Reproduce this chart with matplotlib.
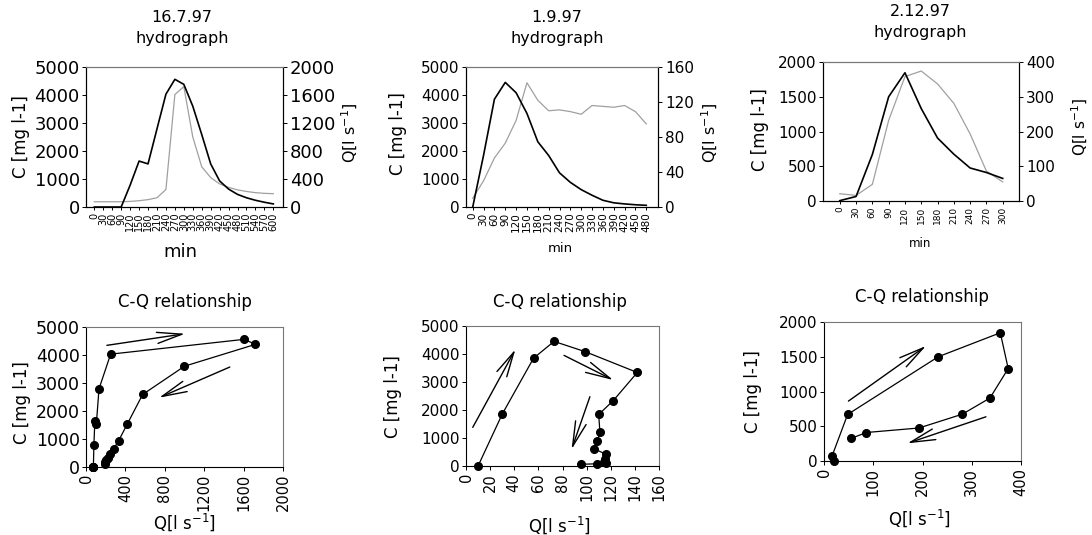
import matplotlib
matplotlib.use('Agg')
import matplotlib.pyplot as plt
import numpy as np

plt.rcParams['font.family'] = ['DejaVu Sans']
plt.rcParams['mathtext.default'] = 'regular'

W, H = 1092, 535

# --- event 16.7.97 ---
t1 = list(range(0, 601, 30))
c1 = [0, 0, 0, 0, 780, 1640, 1540, 2790, 4030, 4560, 4380, 3600, 2590, 1540, 930,
      640, 450, 330, 240, 170, 110]
q1 = [75, 75, 75, 75, 80, 90, 105, 132, 250, 1607, 1720, 1000, 575, 420, 330,
      280, 245, 222, 205, 195, 190]

# --- event 1.9.97 ---
t2 = list(range(0, 481, 30))
c2 = [0, 1850, 3850, 4450, 4080, 3340, 2330, 1840, 1220, 880, 620, 420, 240,
      150, 110, 80, 60]
q2 = [10, 30, 56, 73, 99, 142, 122, 110, 111, 109, 106, 116, 115, 114, 116, 109, 95]

# --- event 2.12.97 ---
t3 = list(range(0, 301, 30))
c3 = [5, 65, 670, 1500, 1845, 1330, 906, 674, 475, 410, 325]
q3 = [21, 16, 48, 232, 358, 374, 337, 281, 193, 86, 55]

dates = ['16.7.97', '1.9.97', '2.12.97']

# hysteresis arrows (axes fraction: tail, head)
arrows4 = [((0.106, 0.869), (0.503, 0.952)), ((0.73, 0.714), (0.371, 0.495))]
arrows5 = [((0.035, 0.276), (0.256, 0.833)), ((0.508, 0.79), (0.763, 0.614)),
           ((0.642, 0.495), (0.547, 0.119))]
arrows6 = [((0.124, 0.431), (0.518, 0.828)), ((0.822, 0.318), (0.423, 0.127))]


def box(l, t, r, b):
    return [l / W, 1 - b / H, (r - l) / W, (b - t) / H]


def ftext(x, y, s, **kw):
    fig.text(x / W, 1 - y / H, s, ha='center', va='center', **kw)


def frame(ax):
    for side in ['left', 'bottom', 'right']:
        ax.spines[side].set_color('black')
        ax.spines[side].set_linewidth(0.8)
    ax.spines['top'].set_color('#777777')
    ax.spines['top'].set_linewidth(0.8)


def hydrograph(rect, t, c, q, cmax, cstep, qmax, qstep, xlim, yfs, xfs):
    ax = fig.add_axes(rect)
    ax2 = ax.twinx()
    x = np.arange(len(t))
    ax2.plot(x, q, color='#a0a0a0', lw=0.9)
    ax.plot(x, c, color='black', lw=1.2)
    ax.set_zorder(ax2.get_zorder() + 1)
    ax.patch.set_visible(False)
    ax.set_xlim(*xlim)
    ax.set_ylim(0, cmax)
    ax2.set_ylim(0, qmax)
    ax.set_yticks(np.arange(0, cmax + 1, cstep))
    ax2.set_yticks(np.arange(0, qmax + 1, qstep))
    ax.set_xticks(x)
    ax.set_xticklabels([str(v) for v in t], rotation=90)
    ax.tick_params(axis='x', labelsize=xfs, length=2.5, pad=1.5, width=0.7)
    ax.tick_params(axis='y', labelsize=yfs, length=3, pad=1.5, width=0.7)
    ax2.tick_params(axis='y', labelsize=yfs, length=3, pad=2, width=0.7)
    frame(ax)
    frame(ax2)
    return ax


def cq(rect, q, c, qmax, qstep, cmax, cstep, arrows, yfs):
    ax = fig.add_axes(rect)
    ax.plot(q, c, color='black', lw=0.9, marker='o', markersize=5.5,
            markerfacecolor='black', clip_on=False, zorder=3)
    ax.set_xlim(0, qmax)
    ax.set_ylim(0, cmax)
    ax.set_xticks(np.arange(0, qmax + 1, qstep))
    ax.set_yticks(np.arange(0, cmax + 1, cstep))
    ax.tick_params(axis='x', labelsize=10.5, rotation=90, length=3, pad=2, width=0.7)
    ax.tick_params(axis='y', labelsize=yfs, length=3, pad=1.5, width=0.7)
    frame(ax)
    ax.spines['right'].set_color('#777777')
    for tail, head in arrows:
        ax.annotate('', xy=head, xytext=tail, xycoords='axes fraction',
                    textcoords='axes fraction',
                    arrowprops=dict(arrowstyle='->,head_length=1.8,head_width=0.4',
                                    color='black', lw=1.0, shrinkA=0, shrinkB=0))
    return ax


fig = plt.figure(figsize=(W / 100, H / 100), dpi=100)

# hydrographs
hydrograph(box(86, 67, 283, 207), t1, c1, q1, 5000, 1000, 2000, 400, (-0.93, 21.08), 13, 7)
hydrograph(box(466, 67, 658, 207), t2, c2, q2, 5000, 1000, 160, 40, (-0.62, 17.08), 11, 7.5)
hydrograph(box(823, 62, 1019, 201), t3, c3, q3, 2000, 500, 400, 100, (-1.03, 11.0), 11, 6.5)

# C-Q relationships
cq(box(86, 327, 283, 467), q1, c1, 2000, 400, 5000, 1000, arrows4, 12.5)
cq(box(466, 326, 659, 466), q2, c2, 160, 20, 5000, 1000, arrows5, 11)
cq(box(824, 322, 1021, 461), q3, c3, 400, 100, 2000, 500, arrows6, 11)

# titles
for x, y, d in [(182, 17, dates[0]), (557, 18, dates[1]), (920, 12, dates[2])]:
    ftext(x, y, d, fontsize=11.5)
    ftext(x, y + 21, 'hydrograph', fontsize=11.5)
for x, y in [(185, 302), (560, 302), (922, 297)]:
    ftext(x, y, 'C-Q relationship', fontsize=12)

# axis labels
clab = 'C [mg l-1]'
qlab = 'Q[l s$^{-1}$]'
for x, y in [(21, 137), (398, 134), (760, 130), (22, 403), (393, 397), (753, 392)]:
    ftext(x, y, clab, fontsize=12, rotation=90)
for x, y, fs in [(350, 133, 11.5), (710, 133, 11.5), (1080, 127, 11)]:
    ftext(x, y, qlab, fontsize=fs, rotation=90)
for x, y in [(185, 522), (560, 525), (920, 518)]:
    ftext(x, y, qlab, fontsize=12)
ftext(180, 252, 'min', fontsize=13)
ftext(560, 249, 'min', fontsize=9.5)
ftext(920, 244, 'min', fontsize=8.5)

fig.savefig('out.png', dpi=100, facecolor='white')
